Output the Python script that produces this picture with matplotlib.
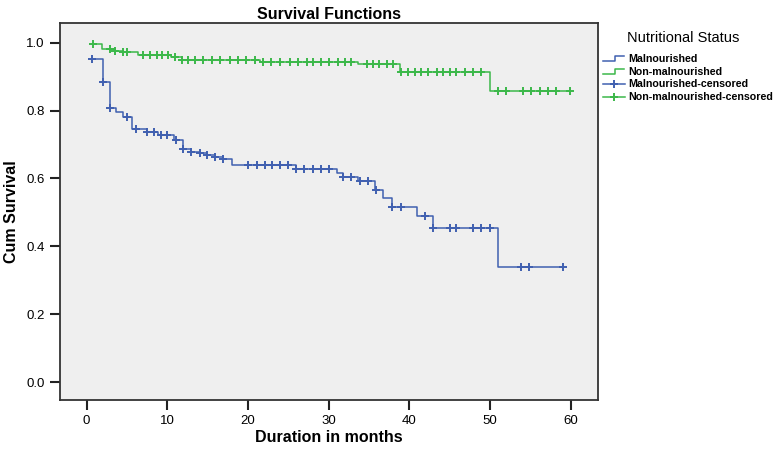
import numpy as np
import matplotlib
matplotlib.use("Agg")
import matplotlib.pyplot as plt
from matplotlib.lines import Line2D

plt.rcParams['font.family'] = ['Liberation Sans', 'DejaVu Sans']

# Kaplan-Meier step data (time in months, cum survival after step)
mal_times = [0.7, 2.0, 2.9, 3.7, 4.5, 5.6, 7.5, 8.8, 10.8, 12.0, 13.0, 14.0, 14.9,
             15.9, 16.9, 18.0, 26.0, 31.0, 31.8, 33.7, 35.7, 36.8, 37.8, 41.0, 42.9, 51.0]
mal_surv = [0.951, 0.885, 0.809, 0.797, 0.780, 0.745, 0.737, 0.728, 0.712, 0.687, 0.679,
            0.674, 0.669, 0.664, 0.657, 0.640, 0.627, 0.617, 0.604, 0.591, 0.566, 0.542,
            0.517, 0.488, 0.453, 0.340]
mal_cens = [0.7, 2.0, 2.9, 5.0, 6.1, 7.5, 8.3, 9.2, 10.0, 11.1, 12.0, 13.0, 14.0, 14.9,
            15.9, 16.9, 20.0, 21.1, 22.1, 23.0, 24.0, 25.0, 26.0, 27.0, 28.1, 29.1, 30.1,
            31.8, 32.8, 33.9, 34.9, 35.9, 37.8, 39.0, 41.9, 42.9, 45.0, 45.8, 47.9, 48.9,
            50.0, 53.9, 54.9, 59.1]
mal_end = 59.1

non_times = [0.8, 1.9, 3.5, 4.5, 6.4, 10.5, 11.8, 21.5, 33.7, 38.8, 50.0]
non_surv = [0.996, 0.981, 0.976, 0.972, 0.964, 0.957, 0.950, 0.944, 0.936, 0.913, 0.858]
non_cens = [0.8, 2.9, 3.5, 4.5, 5.0, 7.0, 7.8, 8.7, 9.3, 10.1, 10.9, 11.8, 12.6, 13.4,
            14.4, 15.5, 16.5, 17.8, 18.8, 19.8, 20.9, 21.9, 22.9, 24.0, 25.2, 26.2, 27.3,
            28.1, 29.1, 30.1, 31.2, 32.0, 32.8, 34.7, 35.5, 36.3, 37.2, 38.0, 39.0, 39.8,
            40.7, 41.5, 42.3, 43.4, 44.2, 45.0, 45.8, 46.9, 47.9, 48.9, 51.0, 52.0, 54.1,
            55.1, 56.2, 57.2, 58.2, 59.9]
non_end = 59.9

labels = ['Malnourished', 'Non-malnourished', 'Malnourished-censored', 'Non-malnourished-censored']
xticks = [0, 10, 20, 30, 40, 50, 60]
yticks = [0.0, 0.2, 0.4, 0.6, 0.8, 1.0]

blue = '#4060b0'
green = '#3cb84a'

W, H = 784, 451
fig = plt.figure(figsize=(W / 100, H / 100), dpi=100)
ax = fig.add_axes([60 / W, 1 - 400 / H, (598 - 60) / W, (400 - 22.7) / H])
ax.set_facecolor('#efefef')


def step_value(times, surv, t):
    i = np.searchsorted(times, t, side='right') - 1
    return np.array(surv)[np.clip(i, 0, None)]


for times, surv, cens, end, col in [(mal_times, mal_surv, mal_cens, mal_end, blue),
                                    (non_times, non_surv, non_cens, non_end, green)]:
    xs = list(times) + [end]
    ys = list(surv) + [surv[-1]]
    ax.plot(xs, ys, drawstyle='steps-post', color=col, lw=1.1)
    ax.plot(cens, step_value(times, surv, cens), ls='none', marker='+', ms=6,
            mew=1.4, color=col)

ax.set_xlim(-3.3, 63.4)
ax.set_ylim(-0.053, 1.059)
ax.set_xticks(xticks)
ax.set_yticks(yticks)
ax.set_yticklabels([f'{v:.1f}' for v in yticks])
ax.tick_params(axis='both', length=7, width=1.5, color='#222222', labelsize=9.5, pad=4)
for s in ax.spines.values():
    s.set_color('#333333')
    s.set_linewidth(1.3)

ax.set_title('Survival Functions', fontsize=11.5, fontweight='bold', pad=3)
ax.set_xlabel('Duration in months', fontsize=11.5, fontweight='bold', labelpad=2)
ax.set_ylabel('Cum Survival', fontsize=11.5, fontweight='bold', labelpad=5)


# legend drawn by hand in pixel positions, like the SPSS output
def fx(px):
    return px / W


def fy(py):
    return 1 - py / H


fig.text(fx(627), fy(38), 'Nutritional Status', fontsize=10.5, va='center', ha='left')
rows = [59, 72, 84, 97]
cols = [blue, green, blue, green]
for i, (lab, yy, col) in enumerate(zip(labels, rows, cols)):
    if i < 2:
        fig.add_artist(Line2D([fx(603), fx(615), fx(615), fx(624)],
                              [fy(yy + 2), fy(yy + 2), fy(yy - 3), fy(yy - 3)],
                              color=col, lw=1.1))
    else:
        fig.add_artist(Line2D([fx(603), fx(625)], [fy(yy), fy(yy)], color=col, lw=1.1))
        fig.add_artist(Line2D([fx(614)], [fy(yy)], marker='+', ms=6, mew=1.4, color=col))
    fig.text(fx(628), fy(yy), lab, fontsize=7.7, fontweight='bold', va='center', ha='left')

fig.savefig('out.png', dpi=100)
